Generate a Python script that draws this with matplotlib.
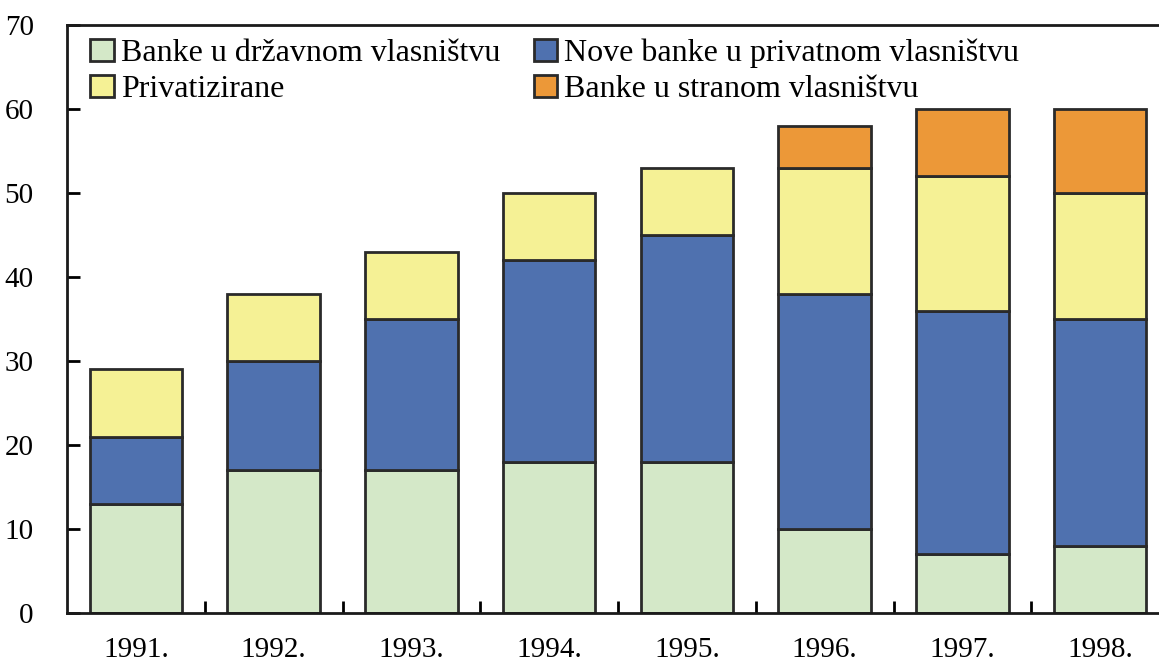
import matplotlib.pyplot as plt
import numpy as np

years = ["1991.", "1992.", "1993.", "1994.", "1995.", "1996.", "1997.", "1998."]
state_owned = [13, 17, 17, 18, 18, 10, 7, 8]
new_private = [8, 13, 18, 24, 27, 28, 29, 27]
privatized = [8, 8, 8, 8, 8, 15, 16, 15]
foreign_owned = [0, 0, 0, 0, 0, 5, 8, 10]

labels = [
    "Banke u državnom vlasništvu",
    "Nove banke u privatnom vlasništvu",
    "Privatizirane",
    "Banke u stranom vlasništvu",
]
colors = ["#D4E8C8", "#4F71AF", "#F5F195", "#EC9838"]

plt.rcParams["font.family"] = ["Liberation Serif", "DejaVu Serif"]

fig = plt.figure(figsize=(11.59, 6.63), dpi=100)
ax = fig.add_axes([67 / 1159, 1 - 613 / 663, (1169 - 67) / 1159, (613 - 25) / 663])

x = np.arange(len(years))
series = [state_owned, new_private, privatized, foreign_owned]
bottom = np.zeros(len(years))
handles = []
for vals, lab, col in zip(series, labels, colors):
    vals = np.array(vals, dtype=float)
    mask = vals > 0
    bars = ax.bar(x[mask], vals[mask], bottom=bottom[mask], width=0.67,
                  color=col, edgecolor="#2a2a2a", linewidth=2, label=lab)
    handles.append(bars)
    bottom += vals

ax.set_xlim(-0.5, 7.5)
ax.set_ylim(0, 70)
ax.set_yticks(range(0, 71, 10))
ax.tick_params(axis="y", direction="in", length=9, width=2, pad=24, labelsize=21)

ax.set_xticks(x)
ax.set_xticklabels(years)
ax.tick_params(axis="x", which="major", length=0, pad=17, labelsize=21)
ax.set_xticks(x[:-1] + 0.5, minor=True)
ax.tick_params(axis="x", which="minor", direction="in", length=9, width=2)

for side in ["left", "bottom", "top"]:
    ax.spines[side].set_linewidth(2)
    ax.spines[side].set_color("#1a1a1a")
ax.spines["right"].set_visible(False)

# legend is filled column by column, so order it to read row by row
order = [0, 2, 1, 3]
ax.legend(handles=[handles[i] for i in order], labels=[labels[i] for i in order],
          ncol=2, loc="upper left", bbox_to_anchor=(-0.005, 1.026), frameon=False,
          fontsize=23, handlelength=0.75, handleheight=0.7, handletextpad=0.2,
          columnspacing=1.05, labelspacing=0.22)

fig.savefig("out.png", dpi=100)
